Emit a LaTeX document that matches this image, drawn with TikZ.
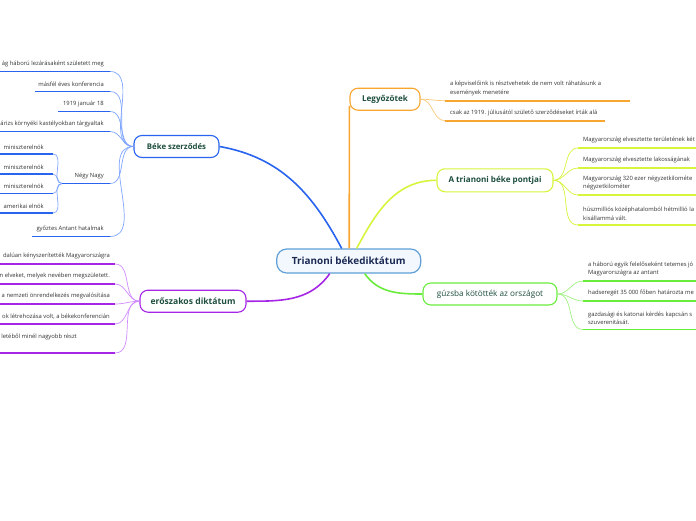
\documentclass[tikz,border=0pt]{standalone}
\usepackage{fontspec}
\setmainfont{Open Sans}
\usepackage{tikz}
\usetikzlibrary{positioning}
\usepackage{xcolor}
\definecolor{HubLine}{RGB}{96,160,214}
\definecolor{HubFill}{RGB}{242,248,253}
\definecolor{HubText}{RGB}{27,41,84}
\definecolor{TopicText}{RGB}{30,78,62}
\definecolor{LeafText}{RGB}{51,51,51}
\definecolor{BekeLine}{RGB}{40,100,240}
\definecolor{BekeTwig}{RGB}{128,166,255}
\definecolor{DiktLine}{RGB}{166,38,230}
\definecolor{DiktTwig}{RGB}{208,140,255}
\definecolor{LegyLine}{RGB}{247,166,48}
\definecolor{LegyTwig}{RGB}{251,200,120}
\definecolor{PontLine}{RGB}{214,245,60}
\definecolor{GuzsLine}{RGB}{106,236,60}
\definecolor{GuzsTwig}{RGB}{160,242,130}

\begin{document}
\begin{tikzpicture}[x=1pt, y=1pt,
    hub/.style={rectangle, rounded corners=10pt, draw=HubLine, fill=HubFill, line width=1.2pt,
                minimum width=144pt, minimum height=24pt, inner sep=0pt,
                text=HubText, font=\fontsize{9.9}{11}\selectfont\bfseries},
    topic/.style={rectangle, rounded corners=8pt, fill=white, line width=1.1pt,
                  minimum height=22pt, inner sep=0pt,
                  text=TopicText, font=\fontsize{8.1}{9}\selectfont\bfseries},
    leafL/.style={inner sep=0pt, align=right, text=LeafText, font=\fontsize{5.85}{8.7}\selectfont},
    leafR/.style={inner sep=0pt, align=left, text=LeafText, font=\fontsize{5.85}{8.7}\selectfont},
    branch/.style={line width=1.6pt},
    twig/.style={line width=0.7pt},
    uline/.style={line width=1.9pt}
]
    \useasboundingbox (0,0) rectangle (696,-520);
    \fill[white] (0,0) rectangle (696,-520);

    \node[hub] (trianon) at (348.7,-261) {Trianoni békediktátum};
    \node[topic, draw=BekeLine, minimum width=85pt, font=\fontsize{7.8}{9}\selectfont\bfseries] (beke) at (176.5,-146.5) {Béke szerződés};
    \node[topic, draw=DiktLine, minimum width=106pt, font=\fontsize{8.6}{9}\selectfont\bfseries] (dikt) at (193,-301.2) {erőszakos diktátum};
    \node[topic, draw=LegyLine, minimum width=70pt] (legy) at (385,-99.2) {Legyőzötek};
    \node[topic, draw=PontLine, minimum width=116pt, minimum height=23pt] (pont) at (495,-180.3) {A trianoni béke pontjai};
    \node[topic, draw=GuzsLine, minimum width=134pt, font=\fontsize{8.2}{9}\selectfont] (guzs) at (490,-294) {gúzsba kötötték az országot};

    \draw[branch, BekeLine] (beke.east) to[out=-10, in=118] ([xshift=-7pt]trianon.north);
    \draw[branch, LegyLine] ([xshift=0.5pt]trianon.north) -- ([yshift=5pt]legy.south west);
    \draw[branch, PontLine] ([xshift=8pt]trianon.north) to[out=62, in=180] (pont.west);
    \draw[branch, DiktLine] ([xshift=-19pt]trianon.south) to[out=-125, in=0] (dikt.east);
    \draw[branch, GuzsLine] ([xshift=16pt]trianon.south) to[out=-55, in=180] (guzs.west);

    \coordinate (b1) at (110,-71.5);  \coordinate (b1w) at (-5,-71.5);
    \coordinate (b2) at (110,-91.5);  \coordinate (b2w) at (35,-91.5);
    \coordinate (b3) at (110,-111.5); \coordinate (b3w) at (58,-111.5);
    \coordinate (b4) at (110,-131.5); \coordinate (b4w) at (-5,-131.5);
    \coordinate (b5) at (110,-183.5); \coordinate (b5w) at (62,-183.5);
    \coordinate (b6) at (110,-236.5); \coordinate (b6w) at (32,-236.5);
    \coordinate (n1) at (53,-154);    \coordinate (n1w) at (-5,-154);
    \coordinate (n2) at (53,-174);    \coordinate (n2w) at (-5,-174);
    \coordinate (n3) at (53,-193.5);  \coordinate (n3w) at (-5,-193.5);
    \coordinate (n4) at (53,-213);    \coordinate (n4w) at (-5,-213);

    \draw[twig, BekeTwig] (beke.west) to[out=180, in=0] (b1);
    \draw[twig, BekeTwig] (beke.west) to[out=180, in=0] (b2);
    \draw[twig, BekeTwig] (beke.west) to[out=180, in=0] (b3);
    \draw[twig, BekeTwig] (beke.west) to[out=180, in=0] (b4);
    \draw[twig, BekeTwig] (beke.west) to[out=180, in=0] (b5);
    \draw[twig, BekeTwig] (beke.west) to[out=180, in=0] (b6);
    \draw[twig, BekeTwig] (b5w) to[out=180, in=0] (n1);
    \draw[twig, BekeTwig] (b5w) to[out=180, in=0] (n2);
    \draw[twig, BekeTwig] (b5w) to[out=180, in=0] (n3);
    \draw[twig, BekeTwig] (b5w) to[out=180, in=0] (n4);
    \draw[uline, BekeLine] (b1) -- (b1w);
    \draw[uline, BekeLine] (b2) -- (b2w);
    \draw[uline, BekeLine] (b3) -- (b3w);
    \draw[uline, BekeLine] (b4) -- (b4w);
    \draw[uline, BekeLine] (b5) -- (b5w);
    \draw[uline, BekeLine] (b6) -- (b6w);
    \draw[uline, BekeLine] (n1) -- (n1w);
    \draw[uline, BekeLine] (n2) -- (n2w);
    \draw[uline, BekeLine] (n3) -- (n3w);
    \draw[uline, BekeLine] (n4) -- (n4w);

    \node[leafL, above left=4.5pt and 6pt of b1] (b1t) {ág háború lezárásaként született meg};
    \node[leafL, above left=4.5pt and 6pt of b2] (b2t) {másfél éves konferencia};
    \node[leafL, above left=4.5pt and 6pt of b3] (b3t) {1919 január 18};
    \node[leafL, above left=4.5pt and 6pt of b4] (b4t) {árizs környéki kastélyokban tárgyaltak};
    \node[leafL, above left=4.5pt and 6pt of b5] (b5t) {Négy Nagy};
    \node[leafL, above left=4.5pt and 6pt of b6] (b6t) {győztes Antant hatalmak};
    \node[leafL, above left=4.5pt and 9pt of n1] (n1t) {miniszterelnök};
    \node[leafL, above left=4.5pt and 9pt of n2] (n2t) {miniszterelnök};
    \node[leafL, above left=4.5pt and 9pt of n3] (n3t) {miniszterelnök};
    \node[leafL, above left=4.5pt and 9pt of n4] (n4t) {amerikai elnök};

    \coordinate (d1) at (115,-264); \coordinate (d1w) at (-5,-264);
    \coordinate (d2) at (115,-284); \coordinate (d2w) at (-5,-284);
    \coordinate (d3) at (115,-304); \coordinate (d3w) at (-5,-304);
    \coordinate (d4) at (115,-324); \coordinate (d4w) at (-5,-324);
    \coordinate (d5) at (115,-353); \coordinate (d5w) at (-5,-353);

    \draw[twig, DiktTwig] (dikt.west) to[out=180, in=0] (d1);
    \draw[twig, DiktTwig] (dikt.west) to[out=180, in=0] (d2);
    \draw[twig, DiktTwig] (dikt.west) to[out=180, in=0] (d3);
    \draw[twig, DiktTwig] (dikt.west) to[out=180, in=0] (d4);
    \draw[twig, DiktTwig] (dikt.west) to[out=180, in=0] (d5);
    \draw[uline, DiktLine] (d1) -- (d1w);
    \draw[uline, DiktLine] (d2) -- (d2w);
    \draw[uline, DiktLine] (d3) -- (d3w);
    \draw[uline, DiktLine] (d4) -- (d4w);
    \draw[uline, DiktLine] (d5) -- (d5w);

    \node[leafL, above left=4.5pt and 5pt of d1] (d1t) {dalúan kényszerítették Magyarországra};
    \node[leafL, above left=4.5pt and 5pt of d2] (d2t) {n elveket, melyek nevében megszületett.};
    \node[leafL, above left=4.5pt and 5pt of d3] (d3t) {a nemzeti önrendelkezés megvalósítása};
    \node[leafL, above left=4.5pt and 5pt of d4] (d4t) {ok létrehozása volt, a békekonferencián};
    \node[leafL, above left=13pt and 38pt of d5] (d5t) {letéből minél nagyobb részt};

    \coordinate (l1) at (445,-100.7); \coordinate (l1e) at (630,-100.7);
    \coordinate (l2) at (445,-120.7); \coordinate (l2e) at (605,-120.7);

    \draw[twig, LegyTwig] (legy.east) to[out=0, in=180] (l1);
    \draw[twig, LegyTwig] (legy.east) to[out=0, in=180] (l2);
    \draw[uline, LegyLine] (l1) -- (l1e);
    \draw[uline, LegyLine] (l2) -- (l2e);

    \node[leafR, above right=4.5pt and 5pt of l1] (l1t) {a képviselőink is résztvehetek de nem volt ráhatásunk a\\események menetére};
    \node[leafR, above right=4.5pt and 5pt of l2] (l2t) {csak az 1919. júliusától születő szerződéseket írták alá};

    \coordinate (p1) at (578,-148); \coordinate (p1e) at (700,-148);
    \coordinate (p2) at (578,-168); \coordinate (p2e) at (700,-168);
    \coordinate (p3) at (578,-195); \coordinate (p3e) at (700,-195);
    \coordinate (p4) at (578,-225); \coordinate (p4e) at (700,-225);

    \draw[twig, PontLine] (pont.east) to[out=0, in=180] (p1);
    \draw[twig, PontLine] (pont.east) to[out=0, in=180] (p2);
    \draw[twig, PontLine] (pont.east) to[out=0, in=180] (p3);
    \draw[twig, PontLine] (pont.east) to[out=0, in=180] (p4);
    \draw[uline, PontLine] (p1) -- (p1e);
    \draw[uline, PontLine] (p2) -- (p2e);
    \draw[uline, PontLine] (p3) -- (p3e);
    \draw[uline, PontLine] (p4) -- (p4e);

    \node[leafR, above right=4.5pt and 5pt of p1] (p1t) {Magyarország elvesztette területének két};
    \node[leafR, above right=4.5pt and 5pt of p2] (p2t) {Magyarország elvesztette lakosságának};
    \node[leafR, above right=4.5pt and 5pt of p3] (p3t) {Magyarország 320 ezer négyzetkilométe\\négyzetkilométer};
    \node[leafR, above right=4.5pt and 5pt of p4] (p4t) {húszmilliós középhatalomból hétmillió la\\kisállammá vált.};

    \coordinate (g1) at (583,-281);   \coordinate (g1e) at (700,-281);
    \coordinate (g2) at (583,-301);   \coordinate (g2e) at (700,-301);
    \coordinate (g3) at (583,-329.5); \coordinate (g3e) at (700,-329.5);

    \draw[twig, GuzsTwig] (guzs.east) to[out=0, in=180] (g1);
    \draw[twig, GuzsTwig] (guzs.east) to[out=0, in=180] (g2);
    \draw[twig, GuzsTwig] (guzs.east) to[out=0, in=180] (g3);
    \draw[uline, GuzsLine] (g1) -- (g1e);
    \draw[uline, GuzsLine] (g2) -- (g2e);
    \draw[uline, GuzsLine] (g3) -- (g3e);

    \node[leafR, above right=4.5pt and 5pt of g1] (g1t) {a háború egyik felelőseként tetemes jó\\Magyarországra az antant};
    \node[leafR, above right=4.5pt and 5pt of g2] (g2t) {hadseregét 35 000 főben határozta me};
    \node[leafR, above right=4.5pt and 5pt of g3] (g3t) {gazdasági és katonai kérdés kapcsán s\\szuverenitását.};
\end{tikzpicture}
\end{document}
